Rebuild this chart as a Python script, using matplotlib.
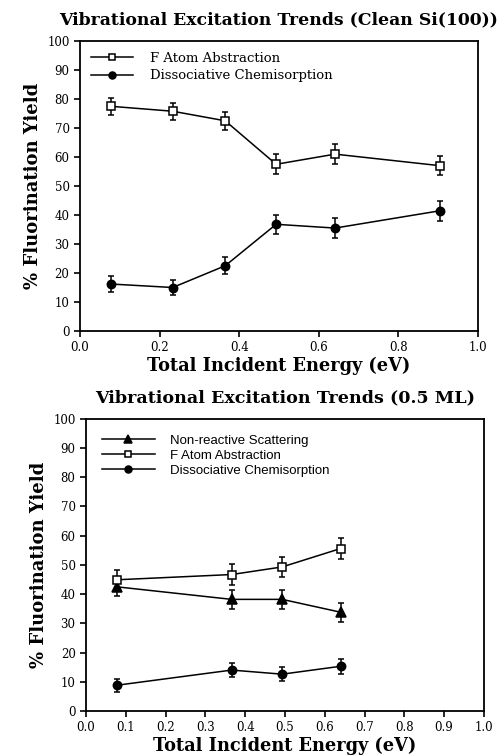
import matplotlib
matplotlib.use("Agg")
import matplotlib.pyplot as plt
from matplotlib.lines import Line2D
from matplotlib.ticker import MultipleLocator, FormatStrFormatter

##### DATA ##########################
# Clean Si(100)
clean_x = [0.078, 0.233, 0.365, 0.493, 0.641, 0.906]
clean_abs = [77.5, 75.8, 72.5, 57.5, 61.0, 57.0]
clean_abs_err = [3.0, 3.0, 3.2, 3.5, 3.5, 3.3]
clean_chem = [16.2, 15.0, 22.5, 36.8, 35.5, 41.5]
clean_chem_err = [2.8, 2.5, 3.0, 3.2, 3.5, 3.5]

# 0.5 ML
ml_x = [0.077, 0.366, 0.493, 0.640]
ml_scat = [42.5, 38.2, 38.2, 33.8]
ml_scat_err = [3.3, 3.3, 3.3, 3.3]
ml_abs = [44.9, 46.7, 49.3, 55.6]
ml_abs_err = [3.5, 3.5, 3.5, 3.5]
ml_chem = [8.8, 14.0, 12.6, 15.3]
ml_chem_err = [2.3, 2.5, 2.3, 2.5]

SERIF = "DejaVu Serif"
SANS = "Liberation Sans"


def style_axes(ax, xstep):
    ax.set_xlim(0, 1.0)
    ax.set_ylim(0, 100)
    ax.xaxis.set_major_locator(MultipleLocator(xstep))
    ax.xaxis.set_major_formatter(FormatStrFormatter('%.1f'))
    ax.yaxis.set_major_locator(MultipleLocator(10))
    ax.tick_params(direction='out', length=4, width=1.2, labelsize=8.5,
                   top=False, right=False, labelfontfamily=SERIF)
    for s in ax.spines.values():
        s.set_linewidth(1.3)
    ax.set_ylabel('% Fluorination Yield', family=SERIF, fontweight='bold',
                  fontsize=13)
    ax.set_xlabel('Total Incident Energy (eV)', family=SERIF, fontweight='bold',
                  fontsize=12.8, labelpad=2)


def series(ax, x, y, err, marker, filled, ms):
    ax.errorbar(x, y, yerr=err, color='black', lw=1.1, elinewidth=1.1,
                capsize=2.5, capthick=1.1, marker=marker, ms=ms,
                mfc='black' if filled else 'white', mec='black', mew=1.1)
    # proxy handle for the legend (line + marker only)
    return Line2D([], [], color='black', lw=1.1, marker=marker, ms=ms - 1,
                  mfc='black' if filled else 'white', mec='black', mew=1.1)


fig = plt.figure(figsize=(5.03, 7.55), dpi=100)

##### TOP ######
ax1 = fig.add_axes([0.159, 0.5616, 0.791, 0.384])
h_abs = series(ax1, clean_x, clean_abs, clean_abs_err, 's', False, 6)
h_chem = series(ax1, clean_x, clean_chem, clean_chem_err, 'o', True, 6)
style_axes(ax1, 0.2)
ax1.set_title('Vibrational Excitation Trends (Clean Si(100))', family=SERIF,
              fontweight='bold', fontsize=12.4, x=0.5, pad=12)
ax1.legend([h_abs, h_chem], ['F Atom Abstraction', 'Dissociative Chemisorption'],
           loc='upper left', frameon=False, handlelength=3.2,
           handletextpad=1.3, labelspacing=0.35, borderaxespad=0.4,
           prop={'family': SERIF, 'size': 9.5})

##### BOTTOM ######
ax2 = fig.add_axes([0.171, 0.0583, 0.791, 0.387])
h_scat = series(ax2, ml_x, ml_scat, ml_scat_err, '^', True, 7)
h_abs2 = series(ax2, ml_x, ml_abs, ml_abs_err, 's', False, 6)
h_chem2 = series(ax2, ml_x, ml_chem, ml_chem_err, 'o', True, 6)
style_axes(ax2, 0.1)
ax2.set_title('Vibrational Excitation Trends (0.5 ML)', family=SERIF,
              fontweight='bold', fontsize=12.6, x=0.5, pad=12)
ax2.legend([h_scat, h_abs2, h_chem2],
           ['Non-reactive Scattering', 'F Atom Abstraction', 'Dissociative Chemisorption'],
           loc='upper left', frameon=False, handlelength=4.0,
           handletextpad=1.2, labelspacing=0.2, borderaxespad=0.8,
           prop={'family': SANS, 'size': 9.5})

plt.savefig('out.png', dpi=100)
